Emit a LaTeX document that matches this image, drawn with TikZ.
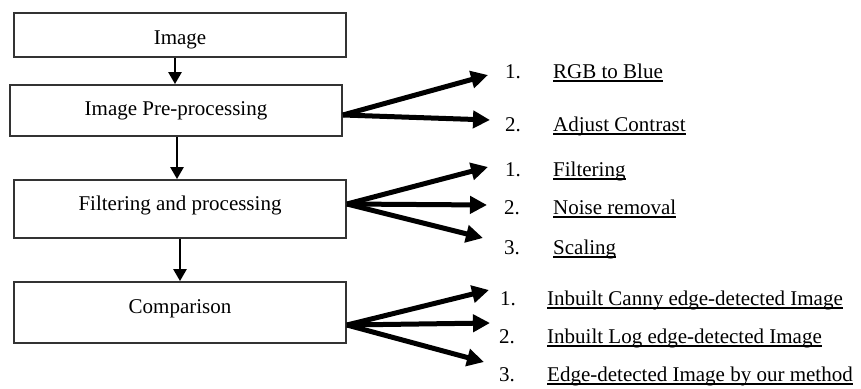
\documentclass[tikz,border=0pt]{standalone}
\usepackage{fontspec}
\setmainfont{Liberation Serif}
\usetikzlibrary{arrows.meta}
\begin{document}
\begin{tikzpicture}[x=1pt,y=-1pt,
  box/.style={draw=black!80, line width=1.8pt, minimum width=332pt, inner sep=0pt},
  txt/.style={font=\fontsize{21pt}{25pt}\selectfont, inner sep=0pt},
  flow/.style={line width=2.5pt, -{Triangle[length=12pt,width=13pt]}},
  fan/.style={line width=5pt, -{Triangle[length=17pt,width=17pt]}},
  uline/.style={line width=1.9pt}]
\useasboundingbox (0,0) rectangle (861,388);

% main process boxes
\node[box, minimum height=44pt] (img)  at (180,35)    {};
\node[box, minimum height=51pt] (pre)  at (176,110.5) {};
\node[box, minimum height=58pt] (filt) at (180,209)   {};
\node[box, minimum height=61pt] (comp) at (180,312.5) {};

\node[txt, anchor=base] (imgtxt)  at (180,44)  {Image};
\node[txt, anchor=base] (pretxt)  at (176,115) {Image Pre-processing};
\node[txt, anchor=base] (filttxt) at (180,210) {Filtering and processing};
\node[txt, anchor=base] (comptxt) at (180,313) {Comparison};

% vertical flow
\draw[flow] ([xshift=-5pt]img.south) -- ([xshift=-1pt]pre.north);
\draw[flow] ([xshift=1pt]pre.south) -- ([xshift=-3pt]filt.north);
\draw[flow] (filt.south) -- (comp.north);

% sub-step lists
\node[txt, anchor=base west] (a1n) at (505,78)  {1.};
\node[txt, anchor=base west] (a1t) at (553,78)  {RGB to Blue};
\node[txt, anchor=base west] (a2n) at (505,131) {2.};
\node[txt, anchor=base west] (a2t) at (553,131) {Adjust Contrast};

\node[txt, anchor=base west] (b1n) at (505,176) {1.};
\node[txt, anchor=base west] (b1t) at (553,176) {Filtering};
\node[txt, anchor=base west] (b2n) at (504,214) {2.};
\node[txt, anchor=base west] (b2t) at (553,214) {Noise removal};
\node[txt, anchor=base west] (b3n) at (504,254) {3.};
\node[txt, anchor=base west] (b3t) at (553,254) {Scaling};

\node[txt, anchor=base west] (c1n) at (500,305) {1.};
\node[txt, anchor=base west] (c1t) at (547,305) {Inbuilt Canny edge-detected Image};
\node[txt, anchor=base west] (c2n) at (499,343) {2.};
\node[txt, anchor=base west] (c2t) at (547,343) {Inbuilt Log edge-detected Image};
\node[txt, anchor=base west] (c3n) at (499,381) {3.};
\node[txt, anchor=base west] (c3t) at (547,381) {Edge-detected Image by our method};

% underlines
\foreach \t in {a1t,a2t,b1t,b2t,b3t,c1t,c2t,c3t}
  \draw[uline] ([yshift=-3pt]\t.base west) -- ([yshift=-3pt]\t.base east);

% arrow tips of the fans
\coordinate (ta1) at (488,75);
\coordinate (ta2) at (490,120);
\coordinate (tb1) at (488,167);
\coordinate (tb2) at (487,205);
\coordinate (tb3) at (483,238);
\coordinate (tc1) at (489,290);
\coordinate (tc2) at (490,323);
\coordinate (tc3) at (484,362);

\draw[fan] ([yshift=-4.5pt]pre.east) -- (ta1);
\draw[fan] ([yshift=-4.5pt]pre.east) -- (ta2);
\draw[fan] ([yshift=5pt]filt.east) -- (tb1);
\draw[fan] ([yshift=5pt]filt.east) -- (tb2);
\draw[fan] ([yshift=5pt]filt.east) -- (tb3);
\draw[fan] ([yshift=-12.5pt]comp.east) -- (tc1);
\draw[fan] ([yshift=-12.5pt]comp.east) -- (tc2);
\draw[fan] ([yshift=-12.5pt]comp.east) -- (tc3);
\end{tikzpicture}
\end{document}
